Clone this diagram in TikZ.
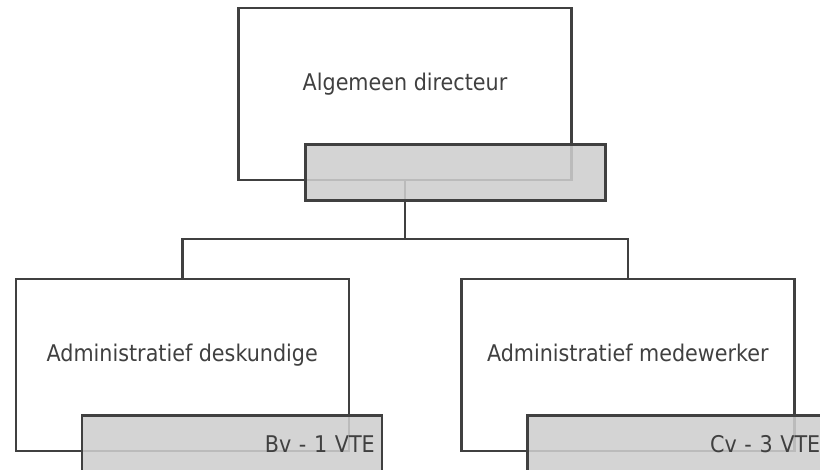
\documentclass[tikz,border=0pt]{standalone}
\usepackage{fontspec}
\setmainfont{DejaVu Sans Condensed}
\usetikzlibrary{trees}

\definecolor{lijn}{HTML}{404040}
\definecolor{vak}{HTML}{CECECE}

\begin{document}
\begin{tikzpicture}[
	x=1pt, y=1pt,
	font=\fontsize{23}{27}\selectfont, text=lijn,
	functie/.style={draw=lijn, line width=2.5pt, fill=white, minimum width=333pt,
		inner ysep=0pt, text height=83pt, text depth=89pt},
	vte/.style={draw=lijn, line width=2.5pt, fill=vak, fill opacity=0.87, text opacity=1,
		text width=286pt, align=right, inner xsep=7pt, inner ysep=0pt,
		text height=37.5pt, text depth=18.5pt, anchor=north west},
	level 1/.style={level distance=271pt, sibling distance=445.5pt},
	edge from parent/.style={draw=lijn, line width=2.5pt},
	edge from parent path={(\tikzparentnode.south) -- ++(0,-58pt) -| (\tikzchildnode.north)}
]
	\useasboundingbox (0,0) rectangle (820,-470);

	\node[functie] (directeur) at (405,-94) {Algemeen directeur}  % root {
		child { node[functie] (deskundige) {Administratief deskundige} }
		child { node[functie] (medewerker) {Administratief medewerker} }
	;

	% VTE
	\node[vte] (directeurvte) at ([xshift=67pt, yshift=38pt]directeur.south west) {};
	\node[vte, text depth=24pt] (deskundigevte) at ([xshift=66pt, yshift=38pt]deskundige.south west) {Bv - 1 VTE};
	\node[vte, text depth=24pt] (medewerkervte) at ([xshift=66pt, yshift=38pt]medewerker.south west) {Cv - 3 VTE};
\end{tikzpicture}
\end{document}
